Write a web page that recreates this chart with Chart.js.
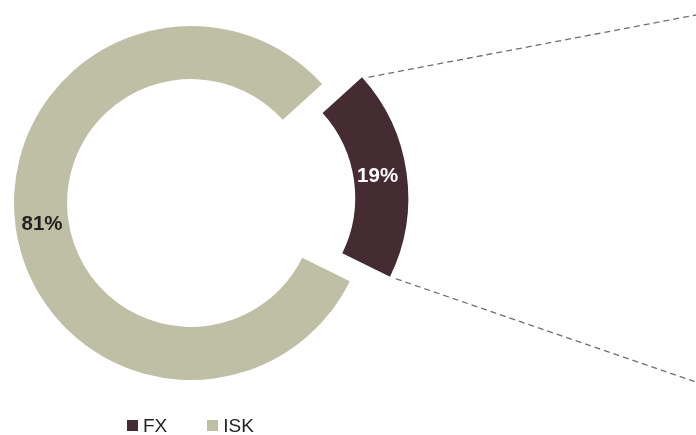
<!DOCTYPE html>
<html>
<head>
<meta charset="utf-8">
<script src="https://cdn.jsdelivr.net/npm/chart.js@4/dist/chart.umd.min.js"></script>
<style>
  html, body { margin: 0; padding: 0; background: #ffffff; }
  #wrap { position: relative; width: 696px; height: 435px; overflow: hidden; }
  #c { position: absolute; left: 0; top: 0; }
  #legend {
    position: absolute; left: 127px; top: 416px;
    display: flex; align-items: center;
    font: 19px "Liberation Sans", Arial, sans-serif; line-height: 19px;
    color: #231f20;
  }
  .item { display: flex; align-items: center; margin-right: 40px; }
  .swatch { width: 11px; height: 11px; margin-right: 5px; }
</style>
</head>
<body>
<div id="wrap">
  <canvas id="c" width="696" height="435"></canvas>
  <div id="legend"></div>
</div>
<script>
// Currency split of the portfolio
const categories = ['FX', 'ISK'];
const shares = [19, 81];
const sliceColors = ['#452b32', '#bebfa5'];
const labelColors = ['#ffffff', '#231f20'];
// The FX slice is pulled out of the ring
const sliceOffsets = [152, 0];

// Percentage labels and the dashed connectors from the detached slice
const sliceAnnotations = {
  id: 'sliceAnnotations',
  afterDatasetsDraw(chart) {
    const ctx = chart.ctx;
    const arcs = chart.getDatasetMeta(0).data;
    const geo = arcs.map((arc) => {
      const p = arc.getProps(['x', 'y', 'startAngle', 'endAngle', 'innerRadius', 'outerRadius'], true);
      const shift = (arc.options.offset || 0) / 4;
      const mid = (p.startAngle + p.endAngle) / 2;
      return Object.assign({}, p, {
        mid,
        cx: p.x + Math.cos(mid) * shift,
        cy: p.y + Math.sin(mid) * shift
      });
    });

    // connectors from the outer corners of the detached slice
    const g = geo[0];
    const targets = [
      { a: g.startAngle, tx: chart.width, ty: 15 },
      { a: g.endAngle, tx: chart.width, ty: 382 }
    ];
    ctx.save();
    ctx.strokeStyle = '#6f6f6f';
    ctx.lineWidth = 1.3;
    ctx.setLineDash([6, 4]);
    targets.forEach((t) => {
      const px = g.cx + Math.cos(t.a) * g.outerRadius;
      const py = g.cy + Math.sin(t.a) * g.outerRadius;
      const dx = t.tx - px, dy = t.ty - py;
      const len = Math.hypot(dx, dy);
      ctx.beginPath();
      ctx.moveTo(px + dx / len * 9, py + dy / len * 9);
      ctx.lineTo(t.tx, t.ty);
      ctx.stroke();
    });
    ctx.restore();

    // value labels at the middle of each ring segment
    ctx.save();
    ctx.font = 'bold 20.5px "Liberation Sans", Arial, sans-serif';
    ctx.textAlign = 'center';
    ctx.textBaseline = 'middle';
    geo.forEach((s, i) => {
      const r = (s.innerRadius + s.outerRadius) / 2;
      ctx.fillStyle = labelColors[i];
      ctx.fillText(shares[i] + '%', s.cx + Math.cos(s.mid) * r, s.cy + Math.sin(s.mid) * r);
    });
    ctx.restore();
  }
};

new Chart(document.getElementById('c'), {
  type: 'doughnut',
  data: {
    labels: categories,
    datasets: [{
      data: shares,
      backgroundColor: sliceColors,
      hoverBackgroundColor: sliceColors,
      borderWidth: 0,
      offset: sliceOffsets,
      hoverOffset: sliceOffsets
    }]
  },
  options: {
    responsive: false,
    animation: false,
    events: [],
    rotation: 47.8,
    cutout: '70%',
    radius: 177,
    layout: { padding: { left: 0, top: 0, right: 314, bottom: 29 } },
    plugins: {
      legend: { display: false },
      tooltip: { enabled: false }
    }
  },
  plugins: [sliceAnnotations]
});

// legend row under the ring
const legend = document.getElementById('legend');
categories.forEach((name, i) => {
  const item = document.createElement('div');
  item.className = 'item';
  const sw = document.createElement('span');
  sw.className = 'swatch';
  sw.style.background = sliceColors[i];
  const txt = document.createElement('span');
  txt.textContent = name;
  item.appendChild(sw);
  item.appendChild(txt);
  legend.appendChild(item);
});
</script>
</body>
</html>
